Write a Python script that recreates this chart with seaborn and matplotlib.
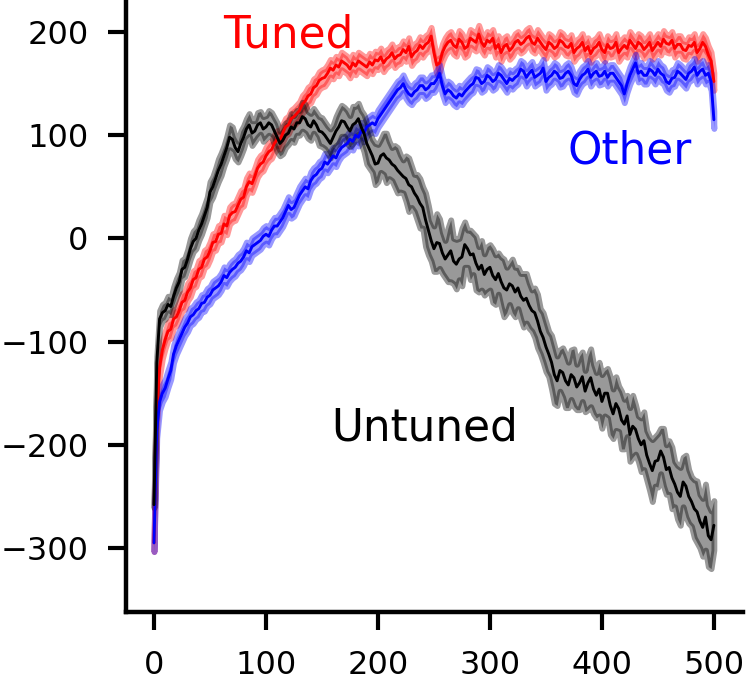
import numpy as np
import pandas as pd
import matplotlib
matplotlib.use("Agg")
import matplotlib.pyplot as plt
import seaborn as sns

steps = [i * 2.5 for i in range(201)]

tuned = [-295, -170, -125, -108, -98, -90, -88, -78, -76, -70, -62, -60, -52, -48, -40, -38, -30, -28, -20, -18,
         -12, -4, -3, 4, 5, 14, 12, 22, 25, 26, 32, 38, 40, 50, 55, 53, 60, 68, 72, 74,
         80, 84, 86, 92, 96, 95, 102, 108, 110, 116, 118, 121, 124, 130, 133, 138, 140, 146, 148, 153,
         155, 156, 160, 165, 163, 168, 166, 172, 170, 168, 164, 170, 167, 172, 170, 168, 166, 171, 168, 173,
         172, 176, 170, 174, 176, 180, 174, 177, 178, 183, 180, 186, 176, 180, 182, 187, 184, 188, 190, 196,
         180, 168, 170, 180, 186, 190, 192, 187, 185, 193, 190, 184, 186, 194, 192, 190, 198, 190, 186, 192,
         190, 194, 184, 188, 180, 186, 188, 182, 185, 190, 192, 188, 190, 194, 196, 190, 188, 194, 190, 186,
         183, 190, 188, 184, 186, 192, 190, 186, 185, 189, 180, 184, 186, 190, 182, 186, 179, 184, 186, 190,
         183, 180, 188, 184, 185, 190, 180, 184, 187, 184, 192, 188, 184, 190, 188, 183, 186, 190, 182, 186,
         190, 186, 193, 189, 188, 192, 184, 188, 188, 183, 182, 187, 186, 190, 180, 184, 190, 186, 178, 172,
         152]

other = [-295, -185, -158, -150, -145, -136, -128, -112, -104, -98, -92, -86, -82, -76, -74, -70, -68, -63, -62, -57,
         -55, -50, -48, -46, -42, -36, -38, -33, -30, -28, -24, -22, -18, -12, -14, -8, -6, -4, -2, 2,
         4, 2, 8, 12, 12, 16, 20, 26, 32, 28, 30, 36, 42, 46, 50, 48, 56, 60, 62, 66,
         68, 74, 72, 76, 80, 78, 84, 88, 90, 92, 96, 94, 100, 98, 104, 102, 108, 110, 112, 110,
         116, 120, 124, 128, 132, 136, 140, 144, 146, 150, 144, 140, 138, 142, 144, 148, 148, 144, 146, 150,
         150, 154, 160, 148, 140, 144, 142, 138, 136, 140, 138, 142, 145, 148, 150, 156, 155, 150, 152, 158,
         156, 152, 154, 160, 158, 154, 150, 155, 153, 156, 158, 164, 162, 156, 160, 163, 156, 158, 160, 165,
         152, 156, 158, 162, 160, 155, 156, 160, 162, 158, 150, 148, 154, 158, 160, 164, 156, 160, 162, 157,
         158, 162, 156, 160, 160, 156, 152, 148, 140, 150, 158, 164, 170, 160, 162, 158, 158, 164, 162, 158,
         164, 160, 158, 152, 150, 155, 156, 162, 160, 157, 154, 160, 162, 166, 158, 162, 164, 158, 160, 152,
         115]

untuned = [-258, -120, -78, -72, -70, -64, -66, -56, -48, -42, -30, -28, -20, -10, -3, 0, 8, 14, 22, 30,
           45, 50, 58, 66, 72, 80, 88, 98, 96, 88, 84, 92, 98, 106, 110, 102, 104, 110, 112, 106,
           108, 112, 110, 104, 98, 92, 95, 100, 102, 108, 106, 112, 112, 118, 116, 110, 108, 114, 110, 104,
           103, 100, 96, 92, 98, 104, 108, 114, 113, 108, 104, 110, 112, 116, 108, 102, 92, 86, 80, 72,
           73, 80, 82, 78, 76, 72, 70, 66, 63, 60, 58, 52, 50, 44, 40, 34, 30, 18, 8, -2,
           -10, -4, -5, -14, -20, -16, -12, -22, -25, -20, -18, -6, -10, -16, -15, -24, -30, -26, -35, -30,
           -28, -36, -40, -34, -42, -48, -50, -44, -46, -52, -48, -56, -60, -58, -65, -70, -72, -80, -90, -96,
           -105, -112, -120, -132, -138, -128, -130, -138, -142, -132, -135, -144, -140, -134, -148, -140, -135, -146, -152, -146,
           -158, -150, -150, -162, -170, -160, -165, -176, -180, -172, -190, -182, -185, -194, -200, -196, -210, -218, -225, -216,
           -215, -206, -212, -224, -222, -232, -238, -246, -250, -236, -240, -250, -255, -262, -265, -274, -280, -270, -288, -292,
           -278]

tuned_sd = 8.5
other_sd = 8.5
untuned_sd = [3, 6, 8, 8, 8, 8, 8, 9, 9, 9, 9, 9, 9, 10, 10, 10, 10, 10, 10, 10,
              10, 10, 10, 11, 11, 10, 11, 12, 12, 11, 10, 12, 11, 10, 11, 12, 10, 12, 11, 12,
              11, 12, 12, 13, 14, 12, 13, 12, 11, 13, 13, 12, 12, 14, 14, 13, 13, 12, 12, 14,
              14, 13, 13, 14, 12, 14, 16, 15, 14, 16, 15, 18, 16, 15, 16, 18, 20, 18, 16, 20,
              18, 16, 20, 24, 18, 16, 20, 22, 18, 16, 22, 26, 20, 18, 22, 24, 20, 26, 24, 20,
              22, 28, 24, 20, 18, 26, 30, 22, 24, 20, 28, 22, 18, 24, 20, 26, 22, 24, 20, 22,
              22, 26, 24, 20, 24, 28, 22, 20, 26, 24, 20, 22, 26, 24, 22, 20, 24, 26, 22, 24,
              24, 22, 26, 28, 24, 20, 24, 26, 22, 24, 28, 22, 26, 24, 20, 26, 28, 24, 22, 26,
              26, 22, 24, 28, 24, 26, 22, 28, 24, 20, 26, 30, 24, 22, 26, 28, 24, 26, 30, 24,
              26, 22, 28, 24, 26, 30, 22, 26, 28, 24, 30, 26, 24, 28, 30, 26, 28, 32, 30, 28,
              24]

names = ["Tuned", "Other", "Untuned"]
colors = {"Tuned": "#ff0000", "Other": "#0000ff", "Untuned": "#000000"}

df = pd.concat([
    pd.DataFrame({"step": steps, "reward": tuned, "sd": tuned_sd, "agent": "Tuned"}),
    pd.DataFrame({"step": steps, "reward": other, "sd": other_sd, "agent": "Other"}),
    pd.DataFrame({"step": steps, "reward": untuned, "sd": untuned_sd, "agent": "Untuned"}),
], ignore_index=True)

sns.set_style("ticks", {"axes.edgecolor": "black", "xtick.color": "black",
                        "ytick.color": "black", "text.color": "black"})
plt.rcParams["font.family"] = ["DejaVu Sans"]

fig = plt.figure(figsize=(7.52, 6.86), dpi=100)
ax = fig.add_axes([126 / 752, 74 / 686, (743 - 126) / 752, 1 - 74 / 686])

for name in names:
    sub = df[df["agent"] == name]
    c = colors[name]
    ax.fill_between(sub["step"], sub["reward"] - sub["sd"], sub["reward"] + sub["sd"],
                    color=c, alpha=0.4, linewidth=4.2, edgecolor=c)
    sns.lineplot(data=sub, x="step", y="reward", color=c, linewidth=2.1, ax=ax,
                 estimator=None, legend=False)

ax.text(120, 197, "Tuned", color="#ff0000", fontsize=31.5, ha="center", va="center")
ax.text(425, 85, "Other", color="#0000ff", fontsize=31.5, ha="center", va="center")
ax.text(242, -184, "Untuned", color="#000000", fontsize=31.5, ha="center", va="center")

ax.set_xlim(-25, 526)
ax.set_ylim(-362, 231)
ax.set_xticks([0, 100, 200, 300, 400, 500])
ax.set_yticks([-300, -200, -100, 0, 100, 200])
ax.set_xlabel("")
ax.set_ylabel("")
for s in ["top", "right"]:
    ax.spines[s].set_visible(False)
for s in ["left", "bottom"]:
    ax.spines[s].set_linewidth(3.2)
    ax.spines[s].set_color("black")
ax.tick_params(axis="both", which="major", length=13, width=3, labelsize=23, pad=14,
               color="black", labelcolor="black")

fig.savefig("out.png", dpi=100)
